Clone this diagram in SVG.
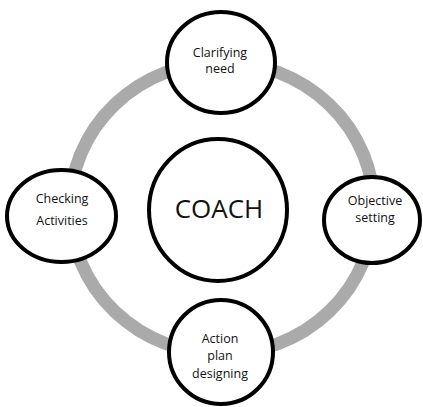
<svg xmlns="http://www.w3.org/2000/svg" width="423" height="407" viewBox="0 0 423 407">
<style>
.node{fill:#ffffff;stroke:#000000;stroke-width:4}
.lbl{font-family:"Open Sans","Liberation Sans",sans-serif;font-size:12.5px;fill:#111111;text-anchor:middle}
.big{font-family:"Open Sans","Liberation Sans",sans-serif;font-size:26px;fill:#111111;text-anchor:middle}
</style>
<rect width="423" height="407" fill="#ffffff"/>
<g id="connectors">
<ellipse cx="222" cy="208" rx="152" ry="146" fill="none" stroke="#aaaaaa" stroke-width="13"/>
</g>
<g id="coach">
<ellipse class="node" cx="218" cy="210" rx="69" ry="71"/>
<text class="big" x="219" y="218">COACH</text>
</g>
<g id="clarifying">
<ellipse class="node" cx="221" cy="62.5" rx="54" ry="50.5"/>
<text class="lbl" x="220" y="57">Clarifying</text>
<text class="lbl" x="220" y="73">need</text>
</g>
<g id="objective">
<ellipse class="node" cx="372" cy="220" rx="48" ry="43"/>
<text class="lbl" x="375" y="205">Objective</text>
<text class="lbl" x="375" y="222">setting</text>
</g>
<g id="action">
<ellipse class="node" cx="221" cy="352" rx="52" ry="52"/>
<text class="lbl" x="220" y="343">Action</text>
<text class="lbl" x="220" y="360">plan</text>
<text class="lbl" x="220" y="378">designing</text>
</g>
<g id="checking">
<ellipse class="node" cx="61.5" cy="216" rx="54.5" ry="46"/>
<text class="lbl" x="62" y="203">Checking</text>
<text class="lbl" x="62" y="225">Activities</text>
</g>
</svg>
